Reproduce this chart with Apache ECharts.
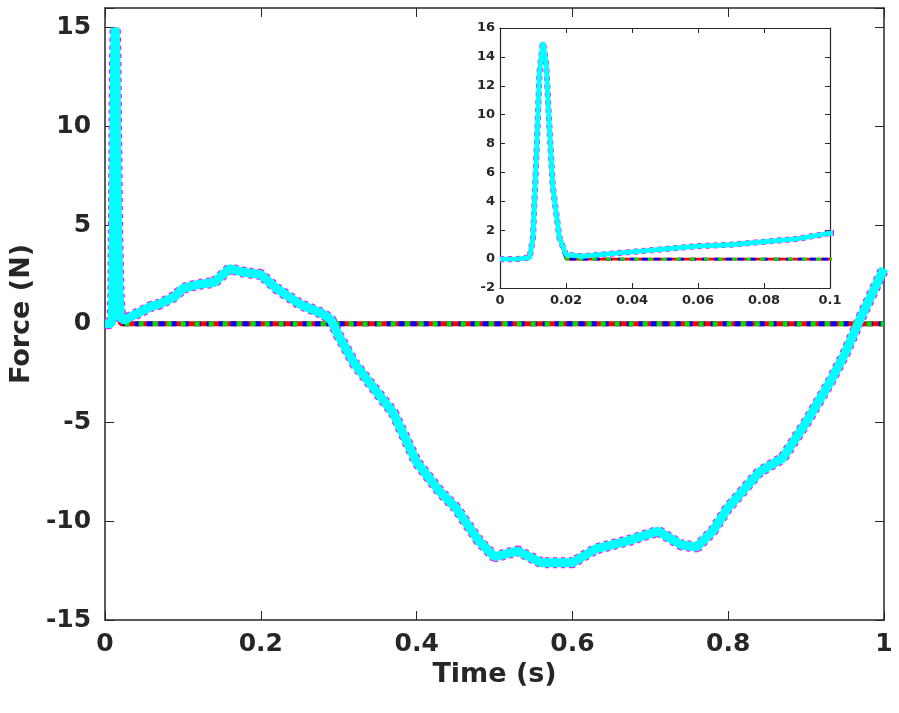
<!DOCTYPE html>
<html>
<head>
<meta charset="utf-8">
<script src="https://cdn.jsdelivr.net/npm/echarts@6/dist/echarts.min.js"></script>
<style>html,body{margin:0;background:#fff}#chart{width:899px;height:713px}</style>
</head>
<body>
<div id="chart"></div>
<script>
var chart = echarts.init(document.getElementById('chart'));

// time (s) and force (N)
var timeCurve = [0, 0.005, 0.009, 0.010, 0.011, 0.012, 0.013, 0.014, 0.015, 0.016, 0.018, 0.020, 0.025, 0.03, 0.04, 0.05, 0.06, 0.07, 0.08, 0.09, 0.1, 0.12, 0.14, 0.16, 0.18, 0.2, 0.22, 0.25, 0.28, 0.29, 0.3, 0.32, 0.35, 0.37, 0.4, 0.43, 0.45, 0.48, 0.5, 0.53, 0.56, 0.6, 0.63, 0.67, 0.71, 0.74, 0.76, 0.78, 0.8, 0.84, 0.87, 0.9, 0.93, 0.95, 0.97, 1.0];
var forceCurve = [0, 0, 0.1, 1.5, 7, 13, 15, 13.5, 9, 5, 1.5, 0.3, 0.2, 0.3, 0.5, 0.7, 0.9, 1.0, 1.2, 1.4, 1.8, 2.0, 2.1, 2.8, 2.6, 2.5, 1.8, 1.0, 0.5, 0.2, -0.6, -2, -3.5, -4.5, -7, -8.5, -9.3, -11, -11.8, -11.5, -12.1, -12.1, -11.4, -11, -10.5, -11.2, -11.3, -10.5, -9.3, -7.5, -6.8, -5, -3, -1.5, 0.3, 2.8];
var timeZero = [0, 0.005, 0.009, 0.010, 0.011, 0.012, 0.013, 0.014, 0.015, 0.016, 0.018, 0.020, 0.05, 0.1, 0.5, 1.0];
var forceZero = [0, 0, 0.1, 1.5, 7, 13, 15, 13.5, 9, 5, 1.5, 0, 0, 0, 0, 0];
var mainYTicks = [-15, -10, -5, 0, 5, 10, 15];

function pairs(xs, ys) { return xs.map(function (x, i) { return [x, ys[i]]; }); }
var curve = pairs(timeCurve, forceCurve);
var zero = pairs(timeZero, forceZero);

var font = 'DejaVu Sans';
function mkSeries(gi) {
  var w = gi === 0 ? 1 : 0.55;
  return [
    {type: 'line', xAxisIndex: gi * 2, yAxisIndex: gi * 2, data: curve, symbol: 'none', lineStyle: {color: '#ff00ff', width: 11 * w, type: [4, 4]}},
    {type: 'line', xAxisIndex: gi * 2, yAxisIndex: gi * 2, data: zero, symbol: 'none', lineStyle: {color: '#ff0000', width: 5 * w}},
    {type: 'line', xAxisIndex: gi * 2, yAxisIndex: gi * 2, data: zero, symbol: 'none', lineStyle: {color: '#0000ff', width: 5 * w, type: [6, 6]}},
    {type: 'line', xAxisIndex: gi * 2, yAxisIndex: gi * 2, data: zero, symbol: 'none', lineStyle: {color: '#00e000', width: 5 * w, type: [5, 9]}},
    {type: 'line', xAxisIndex: gi * 2, yAxisIndex: gi * 2, data: curve, symbol: 'none', lineStyle: {color: '#00ffff', width: 9 * w}}
  ];
}
function frameAxis(kind, gi, pos, min, max, interval, extra) {
  var a = {
    type: 'value', gridIndex: gi, position: pos, min: min, max: max, interval: interval,
    axisLine: {show: true, onZero: false, lineStyle: {color: '#262626', width: gi === 0 ? 1.5 : 1.2}},
    axisTick: {show: true, inside: true, length: gi === 0 ? 9 : 5, lineStyle: {color: '#262626'}},
    splitLine: {show: false},
    axisLabel: {show: false}
  };
  for (var k in extra) a[k] = extra[k];
  return a;
}

var option = {
  animation: false,
  grid: [
    {left: 105, top: 8, width: 779, height: 612},
    {left: 500, top: 28, width: 330, height: 260, show: true, backgroundColor: '#fff', borderWidth: 0, z: 5}
  ],
  xAxis: [
    frameAxis('x', 0, 'bottom', 0, 1, 0.2, {
      name: 'Time (s)', nameLocation: 'middle', nameGap: 38,
      nameTextStyle: {fontFamily: font, fontWeight: 'bold', fontSize: 27, color: '#262626'},
      axisLabel: {show: true, fontFamily: font, fontWeight: 'bold', fontSize: 25, color: '#262626', margin: 12}
    }),
    frameAxis('x', 0, 'top', 0, 1, 0.2, {}),
    frameAxis('x', 1, 'bottom', 0, 0.1, 0.02, {
      z: 6,
      axisLabel: {show: true, fontFamily: font, fontWeight: 'bold', fontSize: 13, color: '#262626', margin: 6}
    }),
    frameAxis('x', 1, 'top', 0, 0.1, 0.02, {z: 6})
  ],
  yAxis: [
    frameAxis('y', 0, 'left', -15, 16, 5, {
      name: 'Force (N)', nameLocation: 'middle', nameGap: 62,
      nameTextStyle: {fontFamily: font, fontWeight: 'bold', fontSize: 27, color: '#262626'},
      axisLabel: {show: true, fontFamily: font, fontWeight: 'bold', fontSize: 25, color: '#262626', margin: 14,
        formatter: function (v) { return mainYTicks.indexOf(v) >= 0 ? String(v) : ''; }}
    }),
    frameAxis('y', 0, 'right', -15, 16, 5, {}),
    frameAxis('y', 1, 'left', -2, 16, 2, {
      z: 6,
      axisLabel: {show: true, fontFamily: font, fontWeight: 'bold', fontSize: 13, color: '#262626', margin: 5}
    }),
    frameAxis('y', 1, 'right', -2, 16, 2, {z: 6})
  ],
  series: mkSeries(0).concat(mkSeries(1).map(function (s) { s.z = 7; s.clip = true; return s; }))
};
chart.setOption(option);
</script>
</body>
</html>
